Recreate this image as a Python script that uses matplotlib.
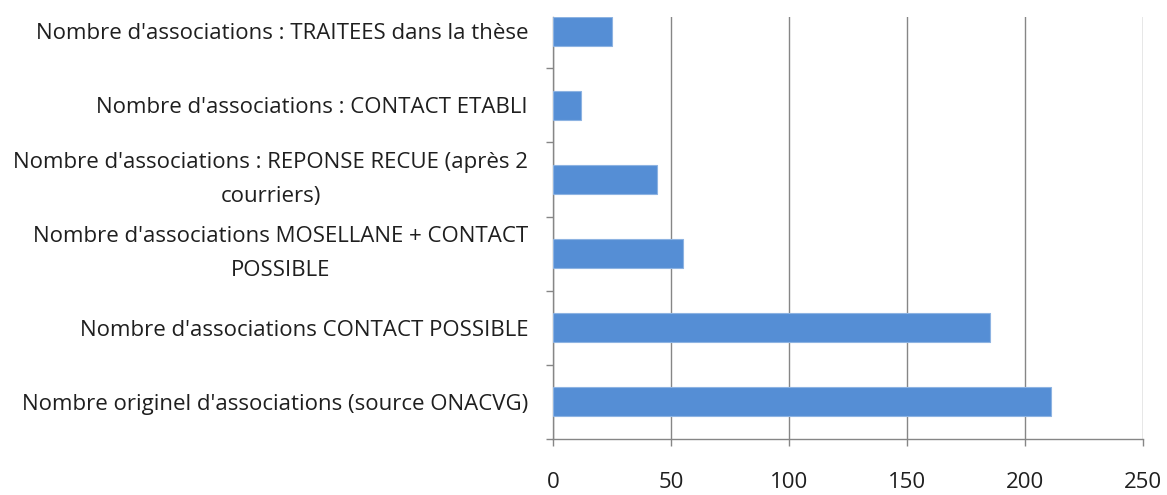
import matplotlib
matplotlib.use("Agg")
import matplotlib.pyplot as plt
from matplotlib.ticker import FixedLocator

categories = [
    "Nombre originel d'associations (source ONACVG)",
    "Nombre d'associations CONTACT POSSIBLE",
    "Nombre d'associations MOSELLANE + CONTACT\nPOSSIBLE",
    "Nombre d'associations : REPONSE RECUE (après 2\ncourriers)",
    "Nombre d'associations : CONTACT ETABLI",
    "Nombre d'associations : TRAITEES dans la thèse",
]
values = [211, 185, 55, 44, 12, 25]
x_ticks = [0, 50, 100, 150, 200, 250]

W, H = 1167, 495
fig = plt.figure(figsize=(W / 100, H / 100), dpi=100)
ax = fig.add_axes([553 / W, (H - 439) / H, (1143 - 553) / W, (439 - 17) / H])

grid_c = "#868686"
txt_c = "#1f1f1f"
pos = list(range(len(categories)))
ax.barh(pos, values, height=0.39, color="#558ED5", edgecolor="#8DB3E2", linewidth=0.8, zorder=3)

ax.set_xlim(0, 250)
ax.set_ylim(-0.5, 5.19)
ax.xaxis.set_major_locator(FixedLocator(x_ticks))
ax.grid(axis="x", color=grid_c, linewidth=1.0, zorder=0)
ax.set_axisbelow(True)

for s in ["top", "right"]:
    ax.spines[s].set_visible(False)
for s in ["left", "bottom"]:
    ax.spines[s].set_color(grid_c)
    ax.spines[s].set_linewidth(1.0)

font = ["Open Sans", "DejaVu Sans"]
ax.set_yticks(pos)
labels = ax.set_yticklabels(categories, fontfamily=font, fontsize=16, multialignment="center",
                            color=txt_c, linespacing=1.85)
for lab in labels:
    if "\n" in lab.get_text():
        lab.set_verticalalignment("center")
ax.tick_params(axis="y", length=0, pad=18)
ax.yaxis.set_minor_locator(FixedLocator([p + 0.5 for p in pos[:-1]] + [-0.5]))
ax.tick_params(axis="y", which="minor", length=5, color=grid_c, width=1.0)
ax.tick_params(axis="x", length=5, color=grid_c, width=1.0, pad=19, labelsize=16)
for lab in ax.get_xticklabels():
    lab.set_fontfamily(font)
    lab.set_color(txt_c)

fig.savefig("out.png", dpi=100, facecolor="white")
